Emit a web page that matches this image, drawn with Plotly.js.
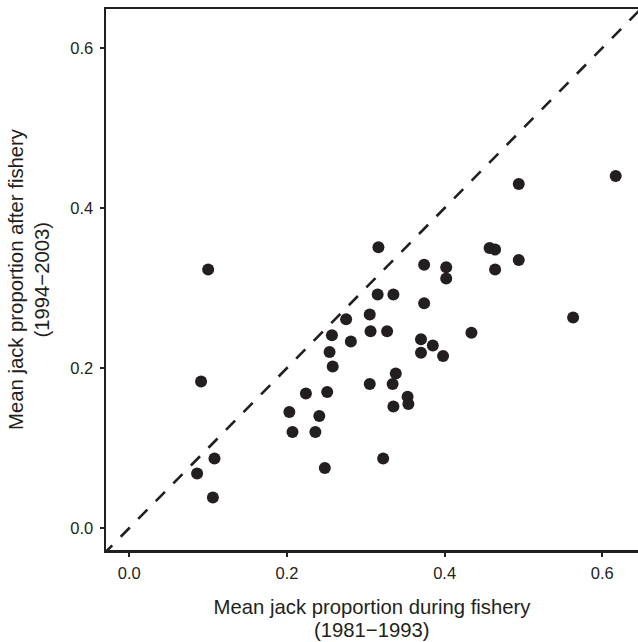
<!DOCTYPE html>
<html>
<head>
<meta charset="utf-8">
<script src="https://cdn.plot.ly/plotly-3.0.1.min.js"></script>
<style>html,body{margin:0;padding:0;background:#fff;}#chart{width:638px;height:642px;}</style>
</head>
<body>
<div id="chart"></div>
<script>
// Mean jack proportion during fishery (1981-1993)
const duringFishery = [
  0.100, 0.091, 0.108, 0.086, 0.106,
  0.316, 0.374, 0.402, 0.402, 0.315, 0.335, 0.374, 0.275, 0.305, 0.257,
  0.306, 0.327, 0.281, 0.370, 0.385, 0.370, 0.398, 0.254, 0.258, 0.338,
  0.305, 0.334, 0.224, 0.251, 0.353, 0.354, 0.335, 0.203, 0.241, 0.207,
  0.236, 0.322, 0.248,
  0.494, 0.617, 0.457, 0.464, 0.494, 0.464, 0.563, 0.434
];
// Mean jack proportion after fishery (1994-2003)
const afterFishery = [
  0.323, 0.183, 0.087, 0.068, 0.038,
  0.351, 0.329, 0.326, 0.312, 0.292, 0.292, 0.281, 0.261, 0.267, 0.241,
  0.246, 0.246, 0.233, 0.236, 0.228, 0.219, 0.215, 0.220, 0.202, 0.193,
  0.180, 0.180, 0.168, 0.170, 0.164, 0.155, 0.152, 0.145, 0.140, 0.120,
  0.120, 0.087, 0.075,
  0.430, 0.440, 0.350, 0.348, 0.335, 0.323, 0.263, 0.244
];
// 1:1 reference line
const refLine = [-0.1, 0.8];
const tickValues = [0, 0.2, 0.4, 0.6];
const tickLabels = ['0.0', '0.2', '0.4', '0.6'];

const ink = '#231f20';
const fontFam = '"Liberation Sans", Arial, Helvetica, sans-serif';

const traces = [
  {
    x: refLine, y: refLine, type: 'scatter', mode: 'lines',
    line: {color: ink, width: 2.6, dash: '13px,12px'},
    hoverinfo: 'skip', showlegend: false
  },
  {
    x: duringFishery, y: afterFishery, type: 'scatter', mode: 'markers',
    marker: {color: ink, size: 12, line: {width: 0}},
    showlegend: false
  }
];

const axisCommon = {
  showgrid: false, zeroline: false, showline: true,
  linecolor: ink, linewidth: 2.5,
  ticks: 'outside', ticklen: 4, tickwidth: 2, tickcolor: ink,
  tickvals: tickValues, ticktext: tickLabels,
  tickfont: {family: fontFam, size: 16.5, color: ink},
  ticklabelstandoff: 3,
  automargin: false
};

const layout = {
  width: 638, height: 642,
  margin: {l: 106, r: 0, t: 9, b: 92},
  paper_bgcolor: '#fff', plot_bgcolor: '#fff',
  font: {family: fontFam, color: ink},
  xaxis: Object.assign({}, axisCommon, {
    range: [-0.0296, 0.6453], mirror: true,
    title: {text: 'Mean jack proportion during fishery', font: {family: fontFam, size: 20.3, color: ink}, standoff: 19}
  }),
  yaxis: Object.assign({}, axisCommon, {
    range: [-0.0275, 0.64875],
    title: {text: 'Mean jack proportion after fishery', font: {family: fontFam, size: 20.3, color: ink}, standoff: 41}
  }),
  annotations: [
    {text: '(1981\u22121993)', xref: 'paper', yref: 'paper', x: 0.5, y: 0, xanchor: 'center', yanchor: 'middle',
     yshift: -80, showarrow: false, font: {family: fontFam, size: 20.3, color: ink}},
    {text: '(1994\u22122003)', xref: 'paper', yref: 'paper', x: 0, y: 0.5, xanchor: 'center', yanchor: 'middle',
     xshift: -65, textangle: -90, showarrow: false, font: {family: fontFam, size: 20.3, color: ink}}
  ]
};

Plotly.newPlot('chart', traces, layout, {displayModeBar: false, staticPlot: true});
</script>
</body>
</html>
